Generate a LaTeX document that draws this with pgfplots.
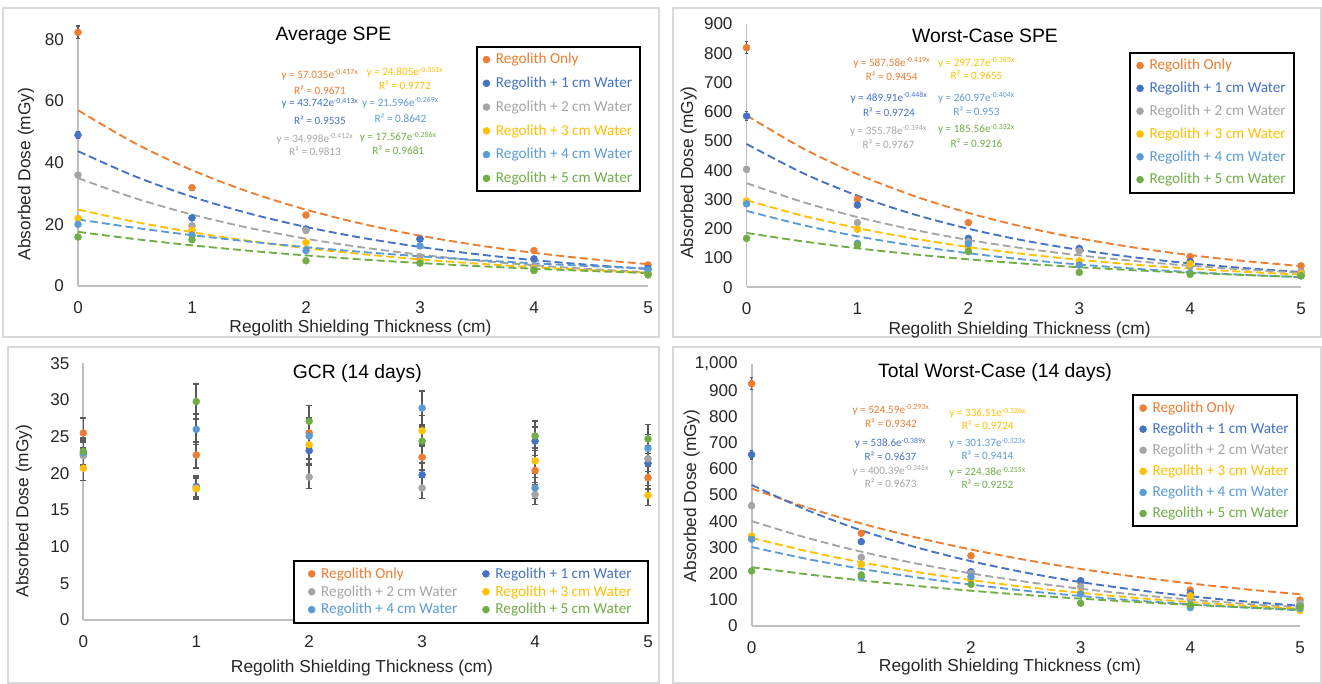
\documentclass[border=0pt]{standalone}
\usepackage{fontspec}
\setmainfont{Liberation Sans}
\newfontfamily\carlito{Carlito}
\usepackage{pgfplots}
\usepackage{pgfplotstable}
\pgfplotsset{compat=1.18}
\definecolor{cOr}{HTML}{ED7D31}
\definecolor{cBl}{HTML}{4472C4}
\definecolor{cGr}{HTML}{A5A5A5}
\definecolor{cYe}{HTML}{FFC000}
\definecolor{cLb}{HTML}{5B9BD5}
\definecolor{cGn}{HTML}{70AD47}
\definecolor{ebar}{HTML}{595959}

% ---------- data points ----------
\pgfplotstableread{
x a b c d e f
0 82.3 49.0 36.0 21.9 20.0 15.9
1 31.9 22.1 19.6 18.1 16.5 15.0
2 23.0 18.5 18.0 14.1 11.5 8.2
3 15.4 15.2 9.5 7.9 13.0 7.4
4 11.5 8.8 6.3 5.7 5.2 5.0
5 6.8 5.7 4.1 3.9 5.2 3.6
}\dataA
\pgfplotstableread{
x a b c d e f
0 819 585 403 295 285 167
1 301 281 221 198 150 145
2 221 167 156 133 148 122
3 128 133 124 90 76 51
4 105 88 71 80 48 44
5 73 48 54 46 39 39
}\dataB
\pgfplotstableread{
x a b c d e f
0 25.5 22.6 22.4 20.7 22.8 23.0
1 22.5 18.2 18.0 17.9 26.0 29.8
2 25.5 23.1 19.5 23.9 25.1 27.1
3 22.2 19.8 18.0 25.8 28.9 24.4
4 20.4 24.4 17.1 21.7 18.0 25.1
5 19.4 21.4 22.0 17.0 23.4 24.7
}\dataC
\pgfplotstableread{
x a b c d e f
0 925 654 459 343 331 210
1 354 322 262 235 186 195
2 268 207 201 176 188 159
3 169 173 150 127 122 87
4 137 125 102 115 70 80
5 99 80 87 59 67 74
}\dataD
% ---------- trendlines (read from the displayed fits) ----------
\pgfplotstableread{
x a b c d e f
0 57.04 43.74 35.00 24.81 21.60 17.57
0.5 46.30 35.58 28.49 20.81 18.88 15.23
1 37.59 28.94 23.18 17.46 16.50 13.20
1.5 30.51 23.54 18.86 14.65 14.43 11.44
2 24.77 19.15 15.35 12.29 12.61 9.92
2.5 20.11 15.58 12.49 10.31 11.02 8.59
3 16.33 12.67 10.17 8.65 9.64 7.45
3.5 13.25 10.31 8.27 7.26 8.42 6.46
4 10.76 8.38 6.73 6.09 7.36 5.60
4.5 8.73 6.82 5.48 5.11 6.44 4.85
5 7.09 5.55 4.46 4.29 5.63 4.20
}\trA
\pgfplotstableread{
x a b c d e f
0 587.6 489.9 355.8 297.3 261.0 185.6
0.5 476.5 391.6 292.2 245.2 213.2 157.2
1 386.5 313.0 239.9 202.3 174.2 133.1
1.5 313.4 250.2 197.0 166.9 142.4 112.8
2 254.2 200.0 161.8 137.6 116.3 95.5
2.5 206.1 159.9 132.9 113.5 95.0 80.9
3 167.2 127.8 109.1 93.7 77.7 68.5
3.5 135.6 102.1 89.6 77.3 63.5 58.1
4 109.9 81.6 73.6 63.7 51.9 49.2
4.5 89.2 65.3 60.4 52.6 42.4 41.7
5 72.3 52.2 49.6 43.4 34.6 35.3
}\trB
\pgfplotstableread{
x a b c d e f
0 524.6 538.6 400.4 336.5 301.4 224.4
0.5 453.1 443.4 337.0 285.9 256.4 197.5
1 391.3 365.0 283.6 242.9 218.2 173.9
1.5 338.0 300.5 238.6 206.4 185.6 153.1
2 292.0 247.4 200.8 175.3 158.0 134.7
2.5 252.2 203.7 169.0 148.9 134.4 118.6
3 217.8 167.7 142.2 126.6 114.4 104.4
3.5 188.1 138.0 119.7 107.5 97.3 91.9
4 162.5 113.6 100.7 91.4 82.8 80.9
4.5 140.3 93.6 84.8 77.6 70.4 71.2
5 121.2 77.0 71.3 65.9 59.9 62.7
}\trD

\pgfplotsset{
  panel/.style={
    scale only axis, anchor=south west,
    xmin=0, xmax=5, ymin=0, clip=false,
    axis lines=left,
    axis line style={draw=black!25, line width=1.4pt, -},
    xtick={0,1,2,3,4,5},
    major tick length=0pt,
    scaled y ticks=false,
    tick label style={font=\fontsize{12.8}{14}\selectfont, text=black!85},
    xticklabel style={yshift=-8pt},
    yticklabel style={xshift=-7pt},
    /pgf/number format/assume math mode=true,
    legend cell align=left,
    legend style={font=\carlito\fontsize{11.4}{13}\selectfont, draw=black, line width=1.5pt,
      anchor=north west, inner xsep=4pt, inner ysep=3pt, row sep=4.4pt},
    legend image code/.code={\path[draw=none, fill=none] (0cm,-1pt) rectangle (0.3cm,1pt);\draw[##1, line width=0.4pt] plot coordinates {(0.12cm,0cm)};},
  },
  mk/.style={only marks, mark=*, mark size=2.6pt, color=#1, mark options={draw=#1, fill=#1, solid}},
  ebs/.style={error bars/.cd, y dir=both, y fixed relative=0.025,
    error bar style={draw=ebar, line width=0.9pt},
    error mark options={rotate=90, mark size=1.4pt, draw=ebar, line width=0.9pt}},
  ebg/.style={error bars/.cd, y dir=both, y fixed relative=0.08,
    error bar style={draw=ebar, line width=1.2pt},
    error mark options={rotate=90, mark size=2.2pt, draw=ebar, line width=1.2pt}},
  tr/.style={forget plot, no markers, smooth, color=#1, line width=1.4pt, dash pattern=on 6pt off 3pt},
}

\newcommand{\EQ}[7]{%
  \node[text=#4, font=\carlito\fontsize{8.4}{10}\selectfont, inner sep=0pt] at (#1,#2) {y = #5e\textsuperscript{#6}};
  \node[text=#4, font=\carlito\fontsize{8.4}{10}\selectfont, inner sep=0pt] at (#1,#3) {R² = #7};}

\begin{document}
\begin{tikzpicture}
\path[use as bounding box] (0,0) rectangle (991.5pt,512.25pt);

% ================= Panel 1: Average SPE =================
\begin{axis}[panel, at={(58.5pt,297.75pt)}, width=427.5pt, height=193.0pt,
  ymax=83.5, ytick={0,20,40,60,80},
  legend style={at={(axis description cs:0.6975,0.934)}}]
\foreach \c/\col in {a/cOr,b/cBl,c/cGr,d/cYe,e/cLb,f/cGn}{
  \edef\tmp{\noexpand\addplot[tr=\col] table[x=x,y=\c]{\noexpand\trA};}\tmp}
\addplot[mk=cOr, ebs] table[x=x,y=a]{\dataA};
\addplot[mk=cBl, ebs] table[x=x,y=b]{\dataA};
\addplot[mk=cGr, ebs] table[x=x,y=c]{\dataA};
\addplot[mk=cYe, ebs] table[x=x,y=d]{\dataA};
\addplot[mk=cLb, ebs] table[x=x,y=e]{\dataA};
\addplot[mk=cGn, ebs] table[x=x,y=f]{\dataA};
\legend{\textcolor{cOr}{Regolith Only},\textcolor{cBl}{Regolith + 1 cm Water},\textcolor{cGr}{Regolith + 2 cm Water},\textcolor{cYe}{Regolith + 3 cm Water},\textcolor{cLb}{Regolith + 4 cm Water},\textcolor{cGn}{Regolith + 5 cm Water}}
\end{axis}

% ================= Panel 2: Worst-Case SPE =================
\begin{axis}[panel, at={(559.9pt,296.8pt)}, width=415.9pt, height=197.5pt,
  ymax=900, ytick={0,100,...,900},
  legend style={at={(axis description cs:0.690,0.895)}, row sep=3.7pt}]
\foreach \c/\col in {a/cOr,b/cBl,c/cGr,d/cYe,e/cLb,f/cGn}{
  \edef\tmp{\noexpand\addplot[tr=\col] table[x=x,y=\c]{\noexpand\trB};}\tmp}
\addplot[mk=cOr, ebs] table[x=x,y=a]{\dataB};
\addplot[mk=cBl, ebs] table[x=x,y=b]{\dataB};
\addplot[mk=cGr, ebs] table[x=x,y=c]{\dataB};
\addplot[mk=cYe, ebs] table[x=x,y=d]{\dataB};
\addplot[mk=cLb, ebs] table[x=x,y=e]{\dataB};
\addplot[mk=cGn, ebs] table[x=x,y=f]{\dataB};
\legend{\textcolor{cOr}{Regolith Only},\textcolor{cBl}{Regolith + 1 cm Water},\textcolor{cGr}{Regolith + 2 cm Water},\textcolor{cYe}{Regolith + 3 cm Water},\textcolor{cLb}{Regolith + 4 cm Water},\textcolor{cGn}{Regolith + 5 cm Water}}
\end{axis}

% ================= Panel 3: GCR =================
\begin{axis}[panel, at={(62.5pt,47.25pt)}, width=423.5pt, height=192.5pt,
  ymax=35, ytick={0,5,...,35},
  legend columns=2,
  legend style={at={(axis description cs:0.371,0.234)}, row sep=0pt, inner xsep=10pt,
    /tikz/every even column/.append style={column sep=16pt}}]
\addplot[mk=cOr, ebg] table[x=x,y=a]{\dataC};
\addplot[mk=cBl, ebg] table[x=x,y=b]{\dataC};
\addplot[mk=cGr, ebg] table[x=x,y=c]{\dataC};
\addplot[mk=cYe, ebg] table[x=x,y=d]{\dataC};
\addplot[mk=cLb, ebg] table[x=x,y=e]{\dataC};
\addplot[mk=cGn, ebg] table[x=x,y=f]{\dataC};
\legend{\textcolor{cOr}{Regolith Only},\textcolor{cBl}{Regolith + 1 cm Water},\textcolor{cGr}{Regolith + 2 cm Water},\textcolor{cYe}{Regolith + 3 cm Water},\textcolor{cLb}{Regolith + 4 cm Water},\textcolor{cGn}{Regolith + 5 cm Water}}
\end{axis}

% ================= Panel 4: Total Worst-Case =================
\begin{axis}[panel, at={(563.7pt,42.75pt)}, width=411.3pt, height=196.5pt,
  ymax=1000, ytick={0,100,...,1000},
  legend style={at={(axis description cs:0.694,0.885)}, row sep=2.4pt}]
\foreach \c/\col in {a/cOr,b/cBl,c/cGr,d/cYe,e/cLb,f/cGn}{
  \edef\tmp{\noexpand\addplot[tr=\col] table[x=x,y=\c]{\noexpand\trD};}\tmp}
\addplot[mk=cOr, ebs] table[x=x,y=a]{\dataD};
\addplot[mk=cBl, ebs] table[x=x,y=b]{\dataD};
\addplot[mk=cGr, ebs] table[x=x,y=c]{\dataD};
\addplot[mk=cYe, ebs] table[x=x,y=d]{\dataD};
\addplot[mk=cLb, ebs] table[x=x,y=e]{\dataD};
\addplot[mk=cGn, ebs] table[x=x,y=f]{\dataD};
\legend{\textcolor{cOr}{Regolith Only},\textcolor{cBl}{Regolith + 1 cm Water},\textcolor{cGr}{Regolith + 2 cm Water},\textcolor{cYe}{Regolith + 3 cm Water},\textcolor{cLb}{Regolith + 4 cm Water},\textcolor{cGn}{Regolith + 5 cm Water}}
\end{axis}

% ================= annotations in pixel coordinates =================
\begin{scope}[x=0.75pt, y=-0.75pt, shift={(0pt,512.25pt)}]
  \draw[black!15, line width=1.2pt] (3,8) rectangle (659,337);
  \draw[black!15, line width=1.2pt] (673,8) rectangle (1321,337);
  \draw[black!15, line width=1.2pt] (8,347) rectangle (659,683);
  \draw[black!15, line width=1.2pt] (673,347) rectangle (1321,683);

  \tikzset{ttl/.style={font=\fontsize{14.5}{17}\selectfont, inner sep=0pt},
           lab/.style={font=\fontsize{13}{15}\selectfont, inner sep=0pt, text=black!85}}
  \node[ttl] at (333.5,36) {Average SPE};
  \node[ttl] at (985,36) {Worst-Case SPE};
  \node[ttl] at (357.3,373.3) {GCR (14 days)};
  \node[ttl] at (995,372.3) {Total Worst-Case (14 days)};

  \node[lab] at (360.5,328) {Regolith Shielding Thickness (cm)};
  \node[lab] at (1019.6,330) {Regolith Shielding Thickness (cm)};
  \node[lab] at (362,668) {Regolith Shielding Thickness (cm)};
  \node[lab] at (1010,667) {Regolith Shielding Thickness (cm)};

  \node[lab, rotate=90] at (26,174) {Absorbed Dose (mGy)};
  \node[lab, rotate=90] at (688.7,172.5) {Absorbed Dose (mGy)};
  \node[lab, rotate=90] at (24,511) {Absorbed Dose (mGy)};
  \node[lab, rotate=90] at (691.7,495.8) {Absorbed Dose (mGy)};

  % Panel 1 equations
  \EQ{320}{75}{90}{cOr}{57.035}{-0.417x}{0.9671}
  \EQ{405}{72.3}{85.7}{cYe}{24.805}{-0.351x}{0.9772}
  \EQ{320}{103.3}{120.7}{cBl}{43.742}{-0.413x}{0.9535}
  \EQ{400.5}{102.7}{118.3}{cLb}{21.596}{-0.269x}{0.8642}
  \EQ{315}{139}{151.7}{cGr}{34.998}{-0.412x}{0.9813}
  \EQ{398.3}{137.3}{150}{cGn}{17.567}{-0.286x}{0.9681}
  % Panel 2 equations
  \EQ{891.7}{62.7}{76.7}{cOr}{587.58}{-0.419x}{0.9454}
  \EQ{976.5}{62.7}{75.3}{cYe}{297.27}{-0.385x}{0.9655}
  \EQ{889}{97.7}{112}{cBl}{489.91}{-0.448x}{0.9724}
  \EQ{976.5}{97.7}{111.7}{cLb}{260.97}{-0.404x}{0.953}
  \EQ{888.5}{130.7}{144}{cGr}{355.78}{-0.394x}{0.9767}
  \EQ{976.5}{129.3}{143.3}{cGn}{185.56}{-0.332x}{0.9216}
  % Panel 4 equations
  \EQ{891}{410}{423.3}{cOr}{524.59}{-0.293x}{0.9342}
  \EQ{987.8}{413.3}{425.7}{cYe}{336.51}{-0.326x}{0.9724}
  \EQ{890.5}{443.3}{456}{cBl}{538.6}{-0.389x}{0.9637}
  \EQ{987.5}{443.3}{455.7}{cLb}{301.37}{-0.323x}{0.9414}
  \EQ{890.7}{471}{483.3}{cGr}{400.39}{-0.345x}{0.9673}
  \EQ{987.5}{472.3}{484.3}{cGn}{224.38}{-0.255x}{0.9252}
\end{scope}
\end{tikzpicture}
\end{document}
